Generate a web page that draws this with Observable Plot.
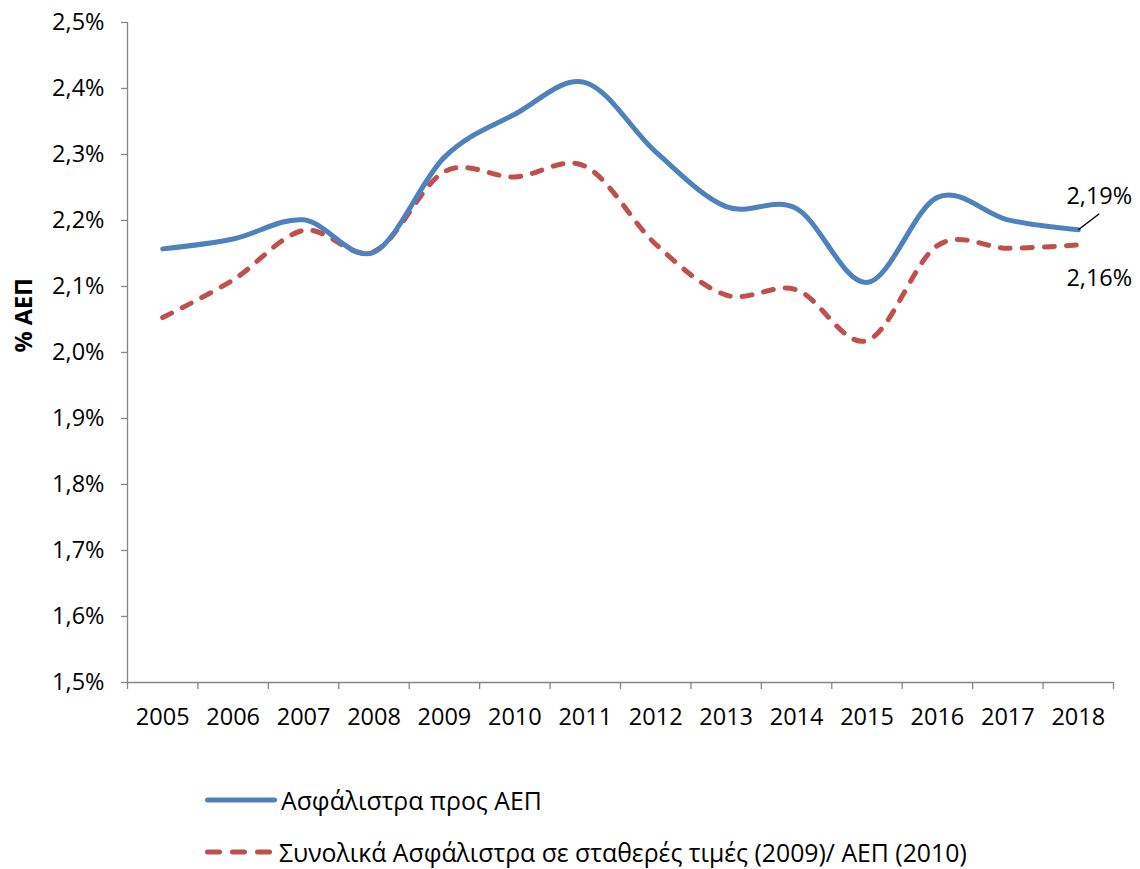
<!DOCTYPE html>
<html>
<head>
<meta charset="utf-8">
<script src="https://cdn.jsdelivr.net/npm/d3@7"></script>
<script src="https://cdn.jsdelivr.net/npm/@observablehq/plot@0.6"></script>
<style>
  body { margin: 0; background: #fff; font-family: "Open Sans", sans-serif; }
  #wrap { position: relative; width: 1140px; height: 869px; background: #fff; }
  .leg { position: absolute; left: 205px; height: 34px; display: flex; align-items: center; font-size: 24.8px; line-height: 34px; color: #000; white-space: nowrap; }
  .leg svg { display: block; }
</style>
</head>
<body>
<div id="wrap"></div>
<script>
// ---- data ----
const years = [2005, 2006, 2007, 2008, 2009, 2010, 2011, 2012, 2013, 2014, 2015, 2016, 2017, 2018];
const premiumsToGdp = [2.157, 2.172, 2.201, 2.152, 2.296, 2.361, 2.409, 2.304, 2.221, 2.218, 2.106, 2.235, 2.201, 2.186];
const constantPricesToGdp = [2.053, 2.110, 2.185, 2.153, 2.274, 2.266, 2.282, 2.164, 2.087, 2.095, 2.018, 2.162, 2.158, 2.163];
const yTicks = [1.5, 1.6, 1.7, 1.8, 1.9, 2.0, 2.1, 2.2, 2.3, 2.4, 2.5];
const seriesNames = ["Ασφάλιστρα προς ΑΕΠ", "Συνολικά Ασφάλιστρα σε σταθερές τιμές (2009)/ ΑΕΠ (2010)"];
const yTitle = "% ΑΕΠ";
const colors = ["#4F81BD", "#C0504D"];

// ---- layout ----
const W = 1140, H = 760, mL = 127, mR = 27, mT = 22, mB = 78;
const font = '"Open Sans", sans-serif';
const fs = 23.5;

const rowsBlue = years.map((year, i) => ({year, value: premiumsToGdp[i]}));
const rowsRed = years.map((year, i) => ({year, value: constantPricesToGdp[i]}));
const xDomain = [years[0] - 0.5, years[years.length - 1] + 0.5];
const yDomain = [yTicks[0], yTicks[yTicks.length - 1]];
const boundaries = d3.range(years.length + 1).map(i => xDomain[0] + i);
const pxPerYear = (W - mL - mR) / (xDomain[1] - xDomain[0]);
const pxPerUnit = (H - mT - mB) / (yDomain[1] - yDomain[0]);
const fmtTick = v => v.toFixed(1).replace(".", ",") + "%";
const fmtVal = v => v.toFixed(2).replace(".", ",") + "%";
const lastBlue = rowsBlue[rowsBlue.length - 1];
const lastRed = rowsRed[rowsRed.length - 1];

const chart = Plot.plot({
  width: W, height: H,
  marginLeft: mL, marginRight: mR, marginTop: mT, marginBottom: mB,
  style: {fontFamily: font, fontSize: fs + "px", color: "#000", background: "#fff", overflow: "visible"},
  x: {domain: xDomain},
  y: {domain: yDomain},
  marks: [
    Plot.axisY(yTicks, {tickSize: 6, tickPadding: 17, stroke: "#868686", strokeWidth: 1.3, fill: "#000", tickFormat: fmtTick, fontSize: fs, label: null}),
    Plot.axisX(boundaries, {tickSize: 7, stroke: "#868686", strokeWidth: 1.3, tickFormat: () => "", label: null}),
    Plot.axisX(years, {tickSize: 0, tickPadding: 26, fill: "#000", tickFormat: d => String(d), fontSize: fs, label: null}),
    Plot.ruleX([xDomain[0]], {stroke: "#868686", strokeWidth: 1.3}),
    Plot.ruleY([yDomain[0]], {stroke: "#868686", strokeWidth: 1.3}),
    Plot.text([yTitle], {frameAnchor: "left", rotate: -90, dx: -103, fontWeight: "bold", fontSize: fs, fill: "#000"}),
    Plot.line(rowsRed, {x: "year", y: "value", stroke: colors[1], strokeWidth: 5, strokeDasharray: "10,12", strokeLinecap: "round", curve: "cardinal", tension: 0}),
    Plot.line(rowsBlue, {x: "year", y: "value", stroke: colors[0], strokeWidth: 5, strokeLinecap: "round", curve: "cardinal", tension: 0}),
    Plot.link([lastBlue], {x1: "year", y1: "value", x2: d => d.year + 21 / pxPerYear, y2: d => d.value + 16 / pxPerUnit, stroke: "#000", strokeWidth: 1.5}),
    Plot.text([lastBlue], {x: "year", y: "value", text: d => fmtVal(d.value), dx: 21, dy: -33, fontSize: fs, fill: "#000"}),
    Plot.text([lastRed], {x: "year", y: "value", text: d => fmtVal(d.value), dx: 21, dy: 34, fontSize: fs, fill: "#000"})
  ]
});

const wrap = document.getElementById("wrap");
wrap.appendChild(chart);

function legendRow(top, color, dashed, label, gap) {
  const row = document.createElement("div");
  row.className = "leg";
  row.style.top = top + "px";
  const ns = "http://www.w3.org/2000/svg";
  const svg = document.createElementNS(ns, "svg");
  svg.setAttribute("width", 72);
  svg.setAttribute("height", 34);
  const ln = document.createElementNS(ns, "line");
  ln.setAttribute("x1", 2.5); ln.setAttribute("x2", dashed ? 64.5 : 69.5);
  ln.setAttribute("y1", 17); ln.setAttribute("y2", 17);
  ln.setAttribute("stroke", color); ln.setAttribute("stroke-width", 5);
  ln.setAttribute("stroke-linecap", "round");
  if (dashed) ln.setAttribute("stroke-dasharray", "12,13");
  svg.appendChild(ln);
  const span = document.createElement("span");
  span.textContent = label;
  span.style.marginLeft = gap + "px";
  row.appendChild(svg);
  row.appendChild(span);
  wrap.appendChild(row);
}
legendRow(783, colors[0], false, seriesNames[0], 4);
legendRow(835, colors[1], true, seriesNames[1], 2);
</script>
</body>
</html>
